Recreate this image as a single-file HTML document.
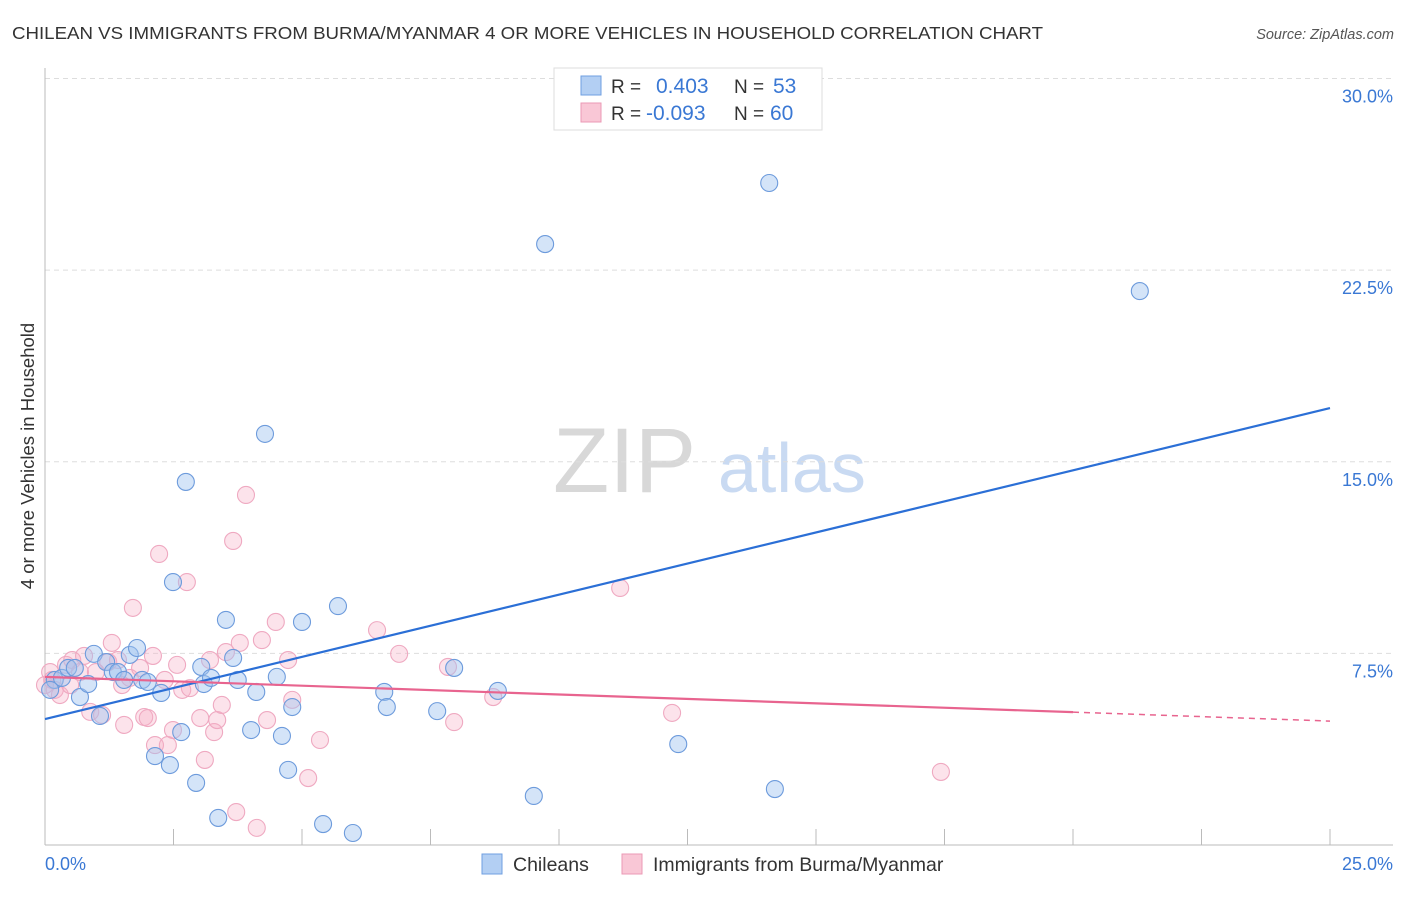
<!DOCTYPE html>
<html><head><meta charset="utf-8"><style>
body{margin:0;background:#fff;font-family:"Liberation Sans",sans-serif}
svg text{font-family:"Liberation Sans",sans-serif}
</style></head><body>
<svg id="chart" width="1406" height="892" viewBox="0 0 1406 892">
<text x="12" y="39" font-size="17.5" fill="#333" textLength="1031" lengthAdjust="spacingAndGlyphs">CHILEAN VS IMMIGRANTS FROM BURMA/MYANMAR 4 OR MORE VEHICLES IN HOUSEHOLD CORRELATION CHART</text>
<text x="1394" y="39" font-size="14.5" fill="#555" font-style="italic" text-anchor="end">Source: ZipAtlas.com</text>
<g>
<text x="553" y="492" font-family="Liberation Serif,serif" font-size="92" fill="#d8d8d8">ZIP</text>
<text x="718" y="492" font-size="70" fill="#c9daf2">atlas</text>
</g>
<g id="grid"></g>
<g id="axes"></g>
<g id="points"></g>
<g id="lines"></g>
<text transform="translate(34,456) rotate(-90)" font-size="18.5" fill="#333" text-anchor="middle">4 or more Vehicles in Household</text>
<g>
<rect x="554" y="68" width="268" height="62" fill="#fff" stroke="#ddd"/>
<rect x="581" y="76" width="20" height="19" fill="#b3cff3" stroke="#6f9fe0"/>
<rect x="581" y="103" width="20" height="19" fill="#f9c7d6" stroke="#eb9ab5"/>
<text x="611" y="93" font-size="19" fill="#333">R =</text>
<text x="656" y="93" font-size="21" fill="#3a78d4">0.403</text>
<text x="734" y="93" font-size="19" fill="#333">N =</text>
<text x="773" y="93" font-size="21" fill="#3a78d4">53</text>
<text x="611" y="120" font-size="19" fill="#333">R =</text>
<text x="646" y="120" font-size="21" fill="#3a78d4">-0.093</text>
<text x="734" y="120" font-size="19" fill="#333">N =</text>
<text x="770" y="120" font-size="21" fill="#3a78d4">60</text>
</g>
<g>
<rect x="482" y="854" width="20" height="20" fill="#b3cff3" stroke="#6f9fe0"/>
<text x="513" y="871" font-size="19.5" fill="#333">Chileans</text>
<rect x="622" y="854" width="20" height="20" fill="#f9c7d6" stroke="#eb9ab5"/>
<text x="653" y="871" font-size="19.5" fill="#333">Immigrants from Burma/Myanmar</text>
</g>
</svg>
<script>
const yTicks=[7.5,15,22.5,30];
const yTickLabels=["7.5%","15.0%","22.5%","30.0%"];
const xTickValues=[0,2.5,5,7.5,10,12.5,15,17.5,20,22.5,25];
const xEndLabels=["0.0%","25.0%"];
const chileansX=[0.19,0.33,0.45,0.58,0.68,0.84,0.95,1.07,1.19,1.32,1.42,1.54,1.65,1.79,1.89,2.00,2.14,2.26,2.43,2.49,2.65,2.74,2.94,3.04,3.09,3.23,3.37,3.52,3.66,3.75,4.01,4.11,4.28,4.51,4.61,4.73,4.81,5.00,5.41,5.70,5.99,6.60,6.65,7.63,7.96,8.81,9.51,9.73,12.32,14.09,14.20,21.30,0.10];
const chileansY=[6.46,6.54,6.93,6.93,5.79,6.30,7.48,5.05,7.16,6.77,6.77,6.46,7.44,7.71,6.46,6.38,3.48,5.95,3.13,10.29,4.42,14.21,2.43,6.97,6.30,6.54,1.06,8.81,7.32,6.46,4.50,5.99,16.09,6.58,4.27,2.94,5.40,8.73,0.82,9.35,0.47,5.99,5.40,5.24,6.93,6.03,1.92,23.52,3.95,25.91,2.19,21.68,6.07];
const burmaX=[0.10,0.19,0.29,0.41,0.53,0.68,0.76,0.88,0.99,1.11,1.23,1.30,1.42,1.50,1.54,1.65,1.71,1.85,1.93,2.00,2.10,2.14,2.22,2.33,2.39,2.49,2.57,2.67,2.76,2.82,3.02,3.11,3.21,3.29,3.35,3.44,3.52,3.66,3.72,3.79,3.91,4.12,4.22,4.32,4.49,4.73,4.81,5.12,5.35,6.46,6.89,7.84,7.96,8.72,11.19,12.20,17.43,0.00,0.14,0.49];
const burmaY=[6.77,6.07,5.87,7.05,7.24,6.77,7.40,5.21,6.77,5.09,7.16,7.91,7.24,6.26,4.70,6.54,9.28,6.93,5.01,4.97,7.40,3.91,11.39,6.46,3.91,4.50,7.05,6.07,10.29,6.14,4.97,3.33,7.24,4.42,4.89,5.48,7.55,11.90,1.29,7.91,13.70,0.67,8.02,4.89,8.73,7.24,5.68,2.62,4.11,8.41,7.48,6.97,4.81,5.79,10.06,5.17,2.86,6.26,6.46,6.26];
const chileansTrend=[4.93,17.1];
const burmaTrend=[6.58,5.2,4.85];
const burmaTrendX=[0,20,25];

const NS="http://www.w3.org/2000/svg";
const X0=45,X1=1330,Y0=845,PXY=25.55;
function xs(v){return X0+(X1-X0)*v/25;}
function ys(v){return Y0-v*PXY;}
function mk(tag,attrs,parent){const e=document.createElementNS(NS,tag);for(const k in attrs)e.setAttribute(k,attrs[k]);parent.appendChild(e);return e;}
const grid=document.getElementById('grid'),axes=document.getElementById('axes'),pts=document.getElementById('points'),lines=document.getElementById('lines');
yTicks.forEach((t,i)=>{
 const l=mk('line',{x1:45,x2:1393,y1:ys(t),y2:ys(t),stroke:'#ddd','stroke-dasharray':'5,4'},grid);
 
 
 const tx=mk('text',{x:1393,y:ys(t)+24,'font-size':18,fill:'#3a78d4','text-anchor':'end'},axes);
 tx.textContent=yTickLabels[i];
 
 
});
const la=mk('line',{x1:45,x2:45,y1:68,y2:845,stroke:'#bbb'},axes);


const ba=mk('line',{x1:45,x2:1393,y1:845,y2:845,stroke:'#bbb'},axes);


xTickValues.forEach(v=>{
 const t=mk('line',{x1:xs(v),x2:xs(v),y1:829,y2:845,stroke:'#bbb'},axes);
 
 
});
const xl0=mk('text',{x:45,y:870,'font-size':18,fill:'#3a78d4'},axes);xl0.textContent=xEndLabels[0];


const xl1=mk('text',{x:1393,y:870,'font-size':18,fill:'#3a78d4','text-anchor':'end'},axes);xl1.textContent=xEndLabels[1];


burmaX.forEach((x,i)=>{
 const c=mk('circle',{cx:xs(x),cy:ys(burmaY[i]),r:8.5,fill:'rgba(246,175,199,0.35)',stroke:'#efa9c1','stroke-width':1.1},pts);
 
 
});
chileansX.forEach((x,i)=>{
 const c=mk('circle',{cx:xs(x),cy:ys(chileansY[i]),r:8.5,fill:'rgba(160,196,240,0.45)',stroke:'#6d9bdc','stroke-width':1.1},pts);
 
 
});
const bl=mk('line',{x1:xs(0),y1:ys(chileansTrend[0]),x2:xs(25),y2:ys(chileansTrend[1]),stroke:'#2b6fd6','stroke-width':2.2},lines);


const pl=mk('line',{x1:xs(burmaTrendX[0]),y1:ys(burmaTrend[0]),x2:xs(burmaTrendX[1]),y2:ys(burmaTrend[1]),stroke:'#e8648f','stroke-width':2.2},lines);


const pd=mk('line',{x1:xs(burmaTrendX[1]),y1:ys(burmaTrend[1]),x2:xs(burmaTrendX[2]),y2:ys(burmaTrend[2]),stroke:'#e8648f','stroke-width':1.5,'stroke-dasharray':'6,5'},lines);


</script>
</body></html>
